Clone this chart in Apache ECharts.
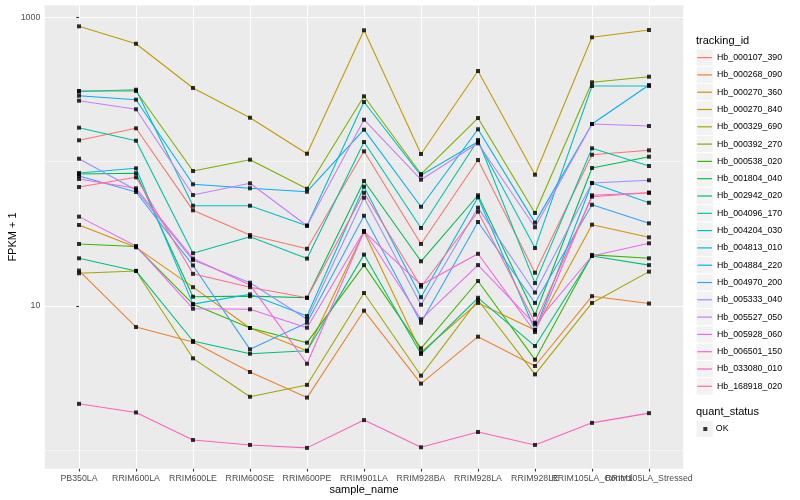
<!DOCTYPE html>
<html>
<head>
<meta charset="utf-8">
<script src="https://cdn.jsdelivr.net/npm/echarts@6/dist/echarts.min.js"></script>
<style>
html,body{margin:0;padding:0;background:#fff;}
#chart{width:800px;height:500px;}
</style>
</head>
<body>
<div id="chart"></div>
<script>
// ---- data ----
const categories = ['PB350LA','RRIM600LA','RRIM600LE','RRIM600SE','RRIM600PE','RRIM901LA','RRIM928BA','RRIM928LA','RRIM928LE','RRIM105LA_Control','RRIM105LA_Stressed'];
const yMajorTicks = [10, 1000];
const yMinorTicks = [1, 100];

const hb_000107_390 = [140.6,170.2,46.0,31.0,24.9,117.9,26.9,102.7,17.0,111.7,119.8];
const hb_000268_090 = [17.6,7.15,5.63,3.49,2.32,9.28,2.90,6.13,3.84,11.7,10.4];
const hb_000270_360 = [36.4,25.5,13.5,7.04,4.90,32.7,4.78,10.5,6.82,36.6,29.9];
const hb_000270_840 = [866,656,324,201.6,113.5,813,113,424.6,81.2,726.6,816.6];
const hb_000329_690 = [16.85,17.5,4.34,2.35,2.84,12.3,3.29,11.0,3.36,10.5,17.3];
const hb_000392_270 = [308.7,308.7,86.1,103.2,64.9,283.6,82.1,200.6,44.1,354.5,387.7];
const hb_000538_020 = [26.9,25.8,10.3,7.04,5.57,19.2,5.09,14.9,4.25,22.6,21.4];
const hb_001804_040 = [82.1,83.1,11.6,11.7,11.4,73.5,20.4,58.5,8.70,90.4,108.2];
const hb_002942_020 = [21.4,17.5,5.72,4.67,4.90,22.7,4.65,11.4,5.28,22.2,19.2];
const hb_004096_170 = [171.9,139.7,23.2,30.2,21.3,136.8,34.7,141.3,14.4,123.7,93.3];
const hb_004204_030 = [306,315,49.5,49.5,36.0,259,80.4,137.5,25.2,334,334];
const hb_004813_010 = [83.5,89.9,10.3,12.05,8.52,67.1,11.5,56.6,6.82,71.1,51.9];
const hb_004884_220 = [286.4,268.7,69.7,65.4,61.9,166.5,48.7,167.6,37.8,182.3,339.6];
const hb_004970_200 = [79.5,61.6,19.1,5.01,7.66,42.2,7.66,38.2,10.5,50.3,37.4];
const hb_005333_040 = [104.8,63.6,20.8,14.5,8.09,56.3,10.2,48.0,12.4,71.1,74.3];
const hb_005527_050 = [264.5,230.5,58.7,70.8,36.0,195.2,75.0,134.0,35.1,182.3,176.6];
const hb_005928_060 = [41.6,26.0,9.58,9.49,7.07,33.1,8.09,19.2,7.47,22.2,27.2];
const hb_006501_150 = [75.8,65.4,21.3,14.0,3.98,32.7,14.0,23.0,6.60,58.5,60.9];
const hb_033080_010 = [2.10,1.83,1.18,1.09,1.04,1.62,1.05,1.34,1.09,1.55,1.81];
const hb_168918_020 = [66.7,77.9,16.7,13.5,11.4,60.9,13.6,45.0,7.66,57.2,60.9];

const seriesNames = ['Hb_000107_390','Hb_000268_090','Hb_000270_360','Hb_000270_840','Hb_000329_690','Hb_000392_270','Hb_000538_020','Hb_001804_040','Hb_002942_020','Hb_004096_170','Hb_004204_030','Hb_004813_010','Hb_004884_220','Hb_004970_200','Hb_005333_040','Hb_005527_050','Hb_005928_060','Hb_006501_150','Hb_033080_010','Hb_168918_020'];
const seriesValues = [hb_000107_390,hb_000268_090,hb_000270_360,hb_000270_840,hb_000329_690,hb_000392_270,hb_000538_020,hb_001804_040,hb_002942_020,hb_004096_170,hb_004204_030,hb_004813_010,hb_004884_220,hb_004970_200,hb_005333_040,hb_005527_050,hb_005928_060,hb_006501_150,hb_033080_010,hb_168918_020];
const statusName = 'OK';

// ---- style ----
const colors = ['#F8766D','#EA8331','#D89000','#C09B00','#A3A500','#7CAE00','#39B600','#00BB4E','#00BF7D','#00C1A3','#00BFC4','#00BAE0','#00B0F6','#35A2FF','#9590FF','#C77CFF','#E76BF3','#FA62DB','#FF62BC','#FF6C91'];
const FONT = 'Liberation Sans, Arial, Helvetica, sans-serif';
const X_LABEL_MARGIN = 5.5;

const chart = echarts.init(document.getElementById('chart'), null, {renderer: 'canvas'});

const lineSeries = seriesNames.map((name, k) => ({
  name: name,
  type: 'line',
  xAxisIndex: 0,
  yAxisIndex: 0,
  data: seriesValues[k].map((v, i) => [i, v]),
  showSymbol: false,
  symbol: 'none',
  lineStyle: {color: colors[k], width: 1.07},
  itemStyle: {color: colors[k]},
  emphasis: {disabled: true},
  silent: true,
  animation: false,
  z: 2
}));

const pointData = [];
seriesValues.forEach(arr => arr.forEach((v, i) => pointData.push([i, v])));

const scatterSeries = {
  name: statusName,
  type: 'scatter',
  data: pointData,
  symbol: 'rect',
  symbolSize: 4,
  itemStyle: {color: '#000000'},
  silent: true,
  animation: false,
  z: 5
};

// legend key backgrounds and titles
const keyGraphics = [];
const keyTop = 49.0, keyStep = 17.3;
for (let i = 0; i < seriesNames.length; i++) {
  keyGraphics.push({
    type: 'rect', silent: true, z: -1,
    shape: {x: 696, y: keyTop + keyStep * i, width: 17.3, height: keyStep},
    style: {fill: '#F2F2F2', stroke: '#FFFFFF', lineWidth: 1}
  });
}
keyGraphics.push({
  type: 'rect', silent: true, z: -1,
  shape: {x: 696, y: 420.4, width: 17.3, height: 17.3},
  style: {fill: '#F2F2F2', stroke: '#FFFFFF', lineWidth: 1}
});
keyGraphics.push({
  type: 'text', silent: true,
  style: {x: 696, y: 40.7, text: 'tracking_id', fill: '#000000', font: '11px ' + FONT, textVerticalAlign: 'middle', verticalAlign: 'middle'}
});
keyGraphics.push({
  type: 'text', silent: true,
  style: {x: 696, y: 411.7, text: 'quant_status', fill: '#000000', font: '11px ' + FONT, textVerticalAlign: 'middle', verticalAlign: 'middle'}
});

const allTicks = categories.map((c, i) => i);
const axisLabelTicks = allTicks.slice(0, allTicks.length - 2);
const extraLabelTicks = allTicks.slice(allTicks.length - 2);

const option = {
  backgroundColor: '#FFFFFF',
  animation: false,
  textStyle: {fontFamily: FONT},
  grid: {
    left: 44.8, right: 800 - 683.2, top: 5.2, bottom: 500 - 468.8,
    show: true, backgroundColor: '#EBEBEB', borderWidth: 0, containLabel: false,
    outerBoundsMode: 'none'
  },
  xAxis: [{
    type: 'value',
    position: 'bottom',
    min: -0.6, max: 10.6,
    name: 'sample_name',
    nameLocation: 'middle',
    nameGap: 16,
    nameMoveOverlap: false,
    nameTextStyle: {fontSize: 11, color: '#000000', fontFamily: FONT},
    axisLine: {show: false},
    axisTick: {show: true, customValues: allTicks, length: 2.75, lineStyle: {color: '#333333', width: 1.07}},
    axisLabel: {
      customValues: axisLabelTicks,
      formatter: v => categories[Math.round(v)],
      hideOverlap: false, showMaxLabel: true, showMinLabel: true,
      fontSize: 8.8, color: '#4D4D4D', fontFamily: FONT, margin: X_LABEL_MARGIN
    },
    splitLine: {show: true, lineStyle: {color: '#FFFFFF', width: 1.07}}
  }],
  yAxis: [{
    type: 'log', logBase: 10,
    min: 0.745, max: 1213,
    name: 'FPKM + 1',
    nameLocation: 'middle',
    nameGap: 26,
    nameMoveOverlap: false,
    nameTextStyle: {fontSize: 11, color: '#000000', fontFamily: FONT},
    axisLine: {show: false},
    axisTick: {show: true, customValues: yMajorTicks, length: 2.75, lineStyle: {color: '#333333', width: 1.07}},
    axisLabel: {customValues: yMajorTicks, fontSize: 8.8, color: '#4D4D4D', fontFamily: FONT, margin: 4.5, formatter: v => String(Math.round(v))},
    splitLine: {show: true, lineStyle: {color: '#FFFFFF', width: 1.07}}
  }, {
    type: 'log', logBase: 10,
    min: 0.745, max: 1213,
    position: 'left',
    axisLine: {show: false},
    axisTick: {show: false, customValues: yMinorTicks},
    axisLabel: {show: false, customValues: yMinorTicks},
    splitLine: {show: true, lineStyle: {color: '#FFFFFF', width: 0.53}}
  }],
  legend: [{
    data: seriesNames,
    orient: 'vertical',
    left: 697.3, top: 52.6,
    padding: 0,
    icon: 'rect',
    itemWidth: 14.7, itemHeight: 1.2,
    itemGap: 7.3,
    selectedMode: false,
    textStyle: {fontSize: 8.8, color: '#000000', fontFamily: FONT, lineHeight: 10}
  }, {
    data: [statusName],
    orient: 'vertical',
    left: 703.3, top: 424,
    padding: 0,
    icon: 'rect',
    itemWidth: 4, itemHeight: 4,
    selectedMode: false,
    textStyle: {fontSize: 8.8, color: '#000000', fontFamily: FONT, lineHeight: 10, padding: [0, 0, 0, 3.5]}
  }],
  graphic: keyGraphics,
  series: lineSeries.concat([scatterSeries])
};

chart.setOption(option);

// the last two category labels overlap each other (as in the original), so they are
// placed as text at the positions given by the axis scale
const axisBottom = chart.convertToPixel({yAxisIndex: 0}, 0.745);
const extraLabels = extraLabelTicks.map(idx => ({
  type: 'text', silent: true, z: 10,
  style: {
    x: chart.convertToPixel({xAxisIndex: 0}, idx),
    y: axisBottom + X_LABEL_MARGIN,
    text: categories[idx],
    fill: '#4D4D4D', font: '8.8px ' + FONT,
    textAlign: 'center', align: 'center', textVerticalAlign: 'top', verticalAlign: 'top'
  }
}));
chart.setOption({graphic: keyGraphics.concat(extraLabels)});
</script>
</body>
</html>
